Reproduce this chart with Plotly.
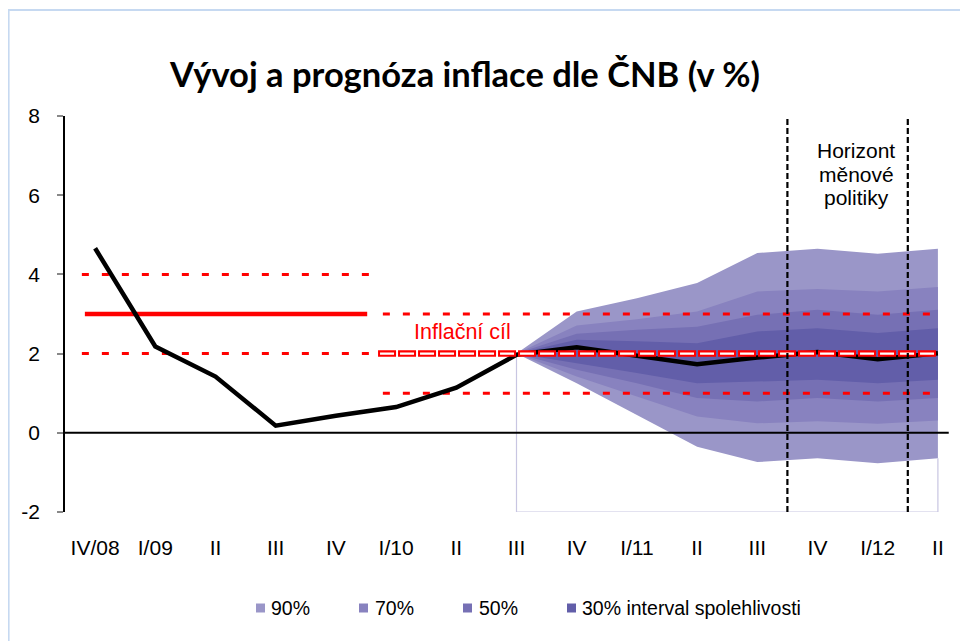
import plotly.graph_objects as go

# ---------------- data ----------------
categories = ["IV/08", "I/09", "II", "III", "IV", "I/10", "II", "III",
              "IV", "I/11", "II", "III", "IV", "I/12", "II"]
inflation = [4.66, 2.18, 1.42, 0.18, 0.43, 0.65, 1.14, 1.97,
             2.16, 1.94, 1.73, 1.90, 2.04, 1.86, 2.01]

fan_start = 7  # index of III/10, where the forecast fan begins
up90 = [2.0, 3.06, 3.40, 3.78, 4.54, 4.65, 4.52, 4.65]
up70 = [2.0, 2.71, 2.87, 3.06, 3.57, 3.63, 3.57, 3.68]
up50 = [2.0, 2.50, 2.60, 2.68, 2.98, 3.11, 2.98, 3.11]
up30 = [2.0, 2.35, 2.31, 2.26, 2.56, 2.64, 2.52, 2.64]
lo30 = [2.0, 1.76, 1.51, 1.25, 1.29, 1.34, 1.25, 1.34]
lo50 = [2.0, 1.59, 1.25, 0.88, 0.79, 0.88, 0.79, 0.88]
lo70 = [2.0, 1.42, 0.92, 0.41, 0.24, 0.29, 0.23, 0.31]
lo90 = [2.0, 1.25, 0.45, -0.35, -0.74, -0.64, -0.77, -0.64]

band_names = ["90%", "70%", "50%", "30% interval spolehlivosti"]
band_colors = ["#9a96c8", "#8882bf", "#7670b4", "#625ea9"]

# inflation targets
old_target = 3.0           # target until end of 2009 (±1 band)
old_band = [2.0, 4.0]
old_span = [-0.17, 4.52]
old_band_span = [-0.22, 4.57]
new_target = 2.0           # target from 2010 (±1 band)
new_band = [1.0, 3.0]
new_span = [4.70, 14.0]
new_band_span = [4.78, 14.0]

horizon_lines = [11.5, 13.5]
horizon_text = ["Horizont", "měnové", "politiky"]
y_ticks = [-2, 0, 2, 4, 6, 8]
y_ticktext = ["-2", "0", "2", "4", "6", "8"]
y_min, y_max = -2, 8

FONT = "Liberation Sans"

# ---------------- layout geometry (figure px) ----------------
W, H = 960, 633
ML, MR, MT, MB = 57, 0, 108, 129
PW, PH = W - ML - MR, H - MT - MB


def px_x(fx):
    return (fx - ML) / PW


def px_y(fy):
    return (H - MB - fy) / PH


# ---------------- figure ----------------
xs = list(range(len(categories)))
fx = xs[fan_start:]

fig = go.Figure()

bands = [(up90, lo90), (up70, lo70), (up50, lo50), (up30, lo30)]
for (up, lo), col, nm in zip(bands, band_colors, band_names):
    fig.add_trace(go.Scatter(
        x=fx + fx[::-1], y=up + lo[::-1], fill="toself", fillcolor=col,
        mode="lines", line=dict(width=0, color=col), name=nm,
        hoverinfo="skip", showlegend=False))

# faint outline of the area base
fig.add_trace(go.Scatter(
    x=[fx[0], fx[0], fx[-1], fx[-1]],
    y=[inflation[fan_start], y_min, y_min, lo90[-1]],
    mode="lines", line=dict(color="#c8c6e2", width=1.2),
    hoverinfo="skip", showlegend=False))

# old target (solid) and its band (dotted)
fig.add_trace(go.Scatter(
    x=old_span, y=[old_target, old_target], mode="lines",
    line=dict(color="#ff0000", width=4.5), hoverinfo="skip", showlegend=False))
for b in old_band:
    fig.add_trace(go.Scatter(
        x=old_band_span, y=[b, b], mode="lines",
        line=dict(color="#ff0000", width=3, dash="7px,13px"),
        hoverinfo="skip", showlegend=False))
for b in new_band:
    fig.add_trace(go.Scatter(
        x=new_band_span, y=[b, b], mode="lines",
        line=dict(color="#ff0000", width=3, dash="7px,13px"),
        hoverinfo="skip", showlegend=False))

# actual + forecast inflation
fig.add_trace(go.Scatter(
    x=xs, y=inflation, mode="lines", name="Inflace",
    line=dict(color="#000000", width=4.5), showlegend=False))

# new target: hollow red dashes
fig.add_trace(go.Scatter(
    x=new_span, y=[new_target, new_target], mode="lines",
    line=dict(color="#ff0000", width=6.5, dash="18px,2px"),
    hoverinfo="skip", showlegend=False))
shift = 2 / (PW / 15)
fig.add_trace(go.Scatter(
    x=[new_span[0] + shift, new_span[1]], y=[new_target, new_target], mode="lines",
    line=dict(color="#ffffff", width=2.4, dash="14px,6px"),
    hoverinfo="skip", showlegend=False))

# zero line
fig.add_shape(type="line", xref="x", yref="y", x0=-0.5, x1=14.18, y0=0, y1=0,
              line=dict(color="#000000", width=2), layer="above")
# policy horizon lines
for hx in horizon_lines:
    fig.add_shape(type="line", xref="x", yref="y", x0=hx, x1=hx, y0=y_min, y1=y_max,
                  line=dict(color="#000000", width=2.2, dash="6px,3px"), layer="above")

for line_txt, ly in zip(horizon_text, [7.13, 6.52, 5.94]):
    fig.add_annotation(x=12.64, y=ly, xref="x", yref="y", text=line_txt,
                       showarrow=False, align="center",
                       font=dict(family=FONT, size=21, color="#000000"))
fig.add_annotation(x=6.1, y=2.55, xref="x", yref="y", text="Inflační cíl",
                   showarrow=False, font=dict(family=FONT, size=21.5, color="#ff0000"))

# legend (drawn manually to match spacing)
legend_sq_left = [248, 351, 455, 559]
legend_text_left = [261, 365, 469, 572]
legend_y = 600
for nm, col, sx, tx in zip(band_names, band_colors, legend_sq_left, legend_text_left):
    fig.add_shape(type="rect", xref="paper", yref="paper",
                  x0=px_x(sx), x1=px_x(sx + 9), y0=px_y(legend_y + 4.5), y1=px_y(legend_y - 4.5),
                  fillcolor=col, line=dict(width=0))
    fig.add_annotation(x=px_x(tx), y=px_y(legend_y), xref="paper", yref="paper",
                       text=nm, showarrow=False, xanchor="left", yanchor="middle",
                       font=dict(family=FONT, size=19.5, color="#000000"))

# chart border (light blue)
fig.add_shape(type="path", xref="paper", yref="paper",
              path=f"M {px_x(0.5)},{px_y(H + 5)} L {px_x(0.5)},{px_y(2)} L {px_x(W + 5)},{px_y(2)}",
              line=dict(color="#c6d9f1", width=2.2))

fig.update_layout(
    width=W, height=H,
    margin=dict(l=ML, r=MR, t=MT, b=MB),
    paper_bgcolor="#ffffff", plot_bgcolor="#ffffff",
    font=dict(family=FONT, size=21, color="#000000"),
    title=dict(text="<b>Vývoj a prognóza inflace dle ČNB (v %)</b>",
               x=457 / W, xref="container", xanchor="center",
               y=1 - 67 / H, yref="container", yanchor="middle",
               font=dict(family="Lato", size=34.5, color="#000000")),
    showlegend=False,
    xaxis=dict(range=[-0.5, 14.5], tickmode="array", tickvals=xs, ticktext=categories,
               showline=False, showgrid=False, zeroline=False, ticks="",
               ticklabelstandoff=21, tickfont=dict(family=FONT, size=21)),
    yaxis=dict(range=[y_min, y_max], tickmode="array", tickvals=y_ticks,
               ticktext=y_ticktext, showline=True, linecolor="#000000",
               linewidth=1.5, showgrid=False, zeroline=False, ticks="outside",
               ticklen=6, tickcolor="#888888", tickwidth=1.5,
               ticklabelstandoff=13, tickfont=dict(family=FONT, size=21)),
)

fig.write_html("out.html")
